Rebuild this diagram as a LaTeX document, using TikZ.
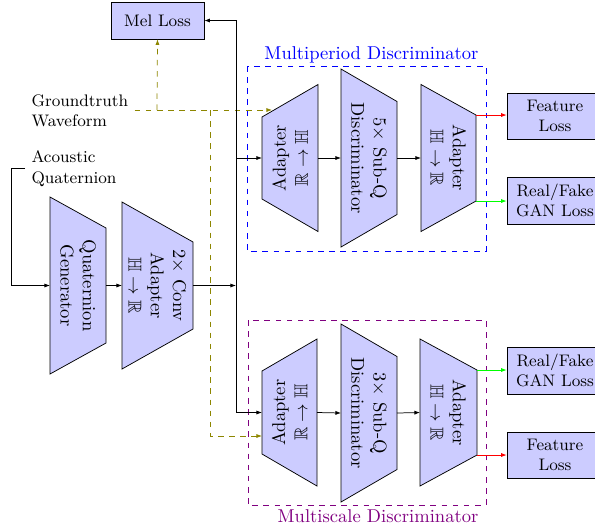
\documentclass[tikz,border=0pt]{standalone}
\usepackage{amssymb}
\usetikzlibrary{arrows.meta}

% Trapezoid block: name, left x, right x, centre y, left half-height,
% right half-height, text rotation, text
\newcommand{\trapblock}[8]{%
  \filldraw[blockfill] (#2,{#4-#5}) -- (#3,{#4-#6}) -- (#3,{#4+#6}) -- (#2,{#4+#5}) -- cycle;
  \coordinate (#1-w) at (#2,#4);
  \coordinate (#1-e) at (#3,#4);
  \coordinate (#1-ne) at (#3,{#4-#6});
  \coordinate (#1-se) at (#3,{#4+#6});
  \node[blocktext,rotate=#7] (#1) at ({(#2+#3)/2},#4) {#8};
}

\begin{document}
\begin{tikzpicture}[x=0.5388pt,y=-0.5388pt,
  arr/.style={-{Latex[length=3pt,width=2.2pt]}},
  gtline/.style={olive,dashed},
  lossbox/.style={draw,fill=blue!20,font=\small,align=center,inner sep=0pt},
  blockfill/.style={draw,fill=blue!20},
  blocktext/.style={align=center,inner sep=0pt},
  sidelabel/.style={font=\small,align=left,anchor=west}]

\useasboundingbox (0,0) rectangle (595,528);

% discriminator frames and titles
\draw[blue,dashed] (247,66) rectangle (486,251);
\node[blue] (mptitle) at (371.5,55) {Multiperiod Discriminator};
\draw[violet,dashed] (248,320) rectangle (486,505);
\node[violet] (mstitle) at (378,516) {Multiscale Discriminator};

% generator side
\trapblock{gen}{50}{106}{285.5}{88.5}{57.5}{-90}{Quaternion\\Generator}
\trapblock{conv}{122}{193}{285.5}{83.5}{43.5}{-90}{$2\times$ Conv\\Adapter\\$\mathbb{H}\rightarrow\mathbb{R}$}

% multiperiod discriminator
\trapblock{pa}{262}{318}{158}{41}{73.5}{90}{Adapter\\$\mathbb{R}\rightarrow\mathbb{H}$}
\trapblock{pd}{341}{397}{158}{89}{56.5}{-90}{$5\times$ Sub-Q\\Discriminator}
\trapblock{pb}{421}{476}{158}{73.5}{43}{-90}{Adapter\\$\mathbb{H}\rightarrow\mathbb{R}$}

% multiscale discriminator
\trapblock{sa}{262}{317}{412.5}{41.5}{73.5}{90}{Adapter\\$\mathbb{R}\rightarrow\mathbb{H}$}
\trapblock{sd}{341}{397}{413}{89}{56.5}{-90}{$3\times$ Sub-Q\\Discriminator}
\trapblock{sb}{420}{477}{412.5}{73.5}{42.5}{-90}{Adapter\\$\mathbb{H}\rightarrow\mathbb{R}$}

% losses
\node[lossbox,minimum width=50.1pt,minimum height=19.9pt] (mel) at (157.5,20.5) {Mel Loss};
\node[lossbox,minimum width=51.7pt,minimum height=24.8pt] (pfeat) at (555,116) {Feature\\Loss};
\node[lossbox,minimum width=51.7pt,minimum height=25.3pt] (pgan) at (555,200.5) {Real/Fake\\GAN Loss};
\node[lossbox,minimum width=51.7pt,minimum height=25.3pt] (sgan) at (555,370.5) {Real/Fake\\GAN Loss};
\node[lossbox,minimum width=51.7pt,minimum height=24.8pt] (sfeat) at (555,455) {Feature\\Loss};

% inputs
\node[sidelabel] (gt) at (25,111) {Groundtruth\\Waveform};
\node[sidelabel] (aq) at (25,168.5) {Acoustic\\Quaternion};

% routing points
\coordinate (gtend) at (272,110);
\coordinate (melfork) at (157,110);
\coordinate (msfork) at (210,110);
\coordinate (sagt) at (262,436);
\coordinate (split) at (236,285.5);
\coordinate (aqbend) at (11,168.5);

% groundtruth paths
\draw[gtline,arr] (gt.east |- gtend) -- (gtend);
\draw[gtline,arr] (melfork) -- (mel.south);
\draw[gtline,arr] (msfork) |- (sagt);

% generated signal paths
\draw[arr] (aq.west) -- (aqbend) |- (gen-w);
\draw[arr] (gen-e) -- (conv-w);
\draw[arr] (conv-e) -- (split);
\draw[arr] (split) |- (mel.east);
\draw[arr] (split) |- (pa-w);
\draw[arr] (split) |- (sa-w);

% discriminator chains
\draw[arr] (pa-e) -- (pd-w);
\draw[arr] (pd-e) -- (pb-w);
\draw[arr] (sa-e) -- (sd-w);
\draw[arr] (sd-e) -- (sb-w);

% outputs to losses
\draw[arr,red] (pb-ne) -- (pb-ne -| pfeat.west);
\draw[arr,green] (pb-se) -- (pb-se -| pgan.west);
\draw[arr,green] (sb-ne) -- (sb-ne -| sgan.west);
\draw[arr,red] (sb-se) -- (sb-se -| sfeat.west);

\end{tikzpicture}
\end{document}
